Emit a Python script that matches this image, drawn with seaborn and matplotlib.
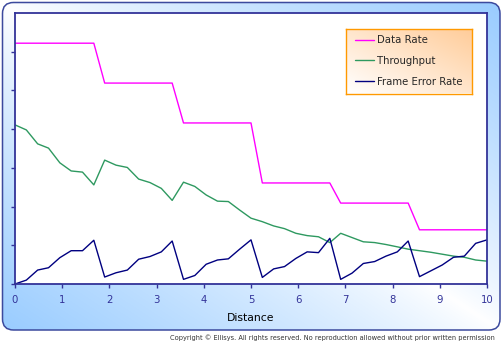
import numpy as np
import pandas as pd
import matplotlib
matplotlib.use("Agg")
import matplotlib.pyplot as plt
from matplotlib.patches import FancyBboxPatch
import seaborn as sns

# ---------------- data ----------------
distance = [0.00, 0.24, 0.48, 0.71, 0.95, 1.19, 1.43, 1.67, 1.90, 2.14, 2.38,
            2.62, 2.86, 3.10, 3.33, 3.57, 3.81, 4.05, 4.29, 4.52, 4.76, 5.00,
            5.24, 5.48, 5.71, 5.95, 6.19, 6.43, 6.67, 6.90, 7.14, 7.38, 7.62,
            7.86, 8.10, 8.33, 8.57, 8.81, 9.05, 9.29, 9.52, 9.76, 10.00]
data_rate = [6.22, 6.22, 6.22, 6.22, 6.22, 6.22, 6.22, 6.22,
             5.19, 5.19, 5.19, 5.19, 5.19, 5.19, 5.19,
             4.16, 4.16, 4.16, 4.16, 4.16, 4.16, 4.16,
             2.61, 2.61, 2.61, 2.61, 2.61, 2.61, 2.61,
             2.09, 2.09, 2.09, 2.09, 2.09, 2.09, 2.09,
             1.40, 1.40, 1.40, 1.40, 1.40, 1.40, 1.40]
throughput = [4.11, 3.98, 3.62, 3.51, 3.13, 2.92, 2.89, 2.56, 3.20, 3.07,
              3.01, 2.71, 2.62, 2.47, 2.16, 2.63, 2.52, 2.30, 2.14, 2.13,
              1.91, 1.70, 1.61, 1.50, 1.43, 1.31, 1.25, 1.22, 1.07, 1.31,
              1.20, 1.09, 1.07, 1.02, 0.96, 0.90, 0.86, 0.82, 0.77, 0.72,
              0.69, 0.62, 0.59]
frame_error_rate = [0.00, 0.10, 0.36, 0.42, 0.68, 0.86, 0.86, 1.13, 0.18, 0.29,
                    0.36, 0.64, 0.71, 0.83, 1.11, 0.12, 0.22, 0.51, 0.62, 0.65,
                    0.90, 1.14, 0.17, 0.39, 0.45, 0.66, 0.83, 0.81, 1.18, 0.12,
                    0.28, 0.53, 0.58, 0.72, 0.83, 1.11, 0.19, 0.34, 0.49, 0.69,
                    0.72, 1.05, 1.14]
series_names = ["Data Rate", "Throughput", "Frame Error Rate"]
x_ticks = [0, 1, 2, 3, 4, 5, 6, 7, 8, 9, 10]
y_ticks = [0, 1, 2, 3, 4, 5, 6]
x_label = "Distance"
copyright_text = ("Copyright \u00a9 Ellisys. All rights reserved. "
                  "No reproduction allowed without prior written permission")

colors = {"Data Rate": "#ff00ff", "Throughput": "#2e9960", "Frame Error Rate": "#000080"}
axis_blue = "#333399"

df = pd.DataFrame({
    "Distance": distance * 3,
    "Value": data_rate + throughput + frame_error_rate,
    "Series": [series_names[0]] * len(distance) + [series_names[1]] * len(distance)
              + [series_names[2]] * len(distance),
})

sns.set_style("white")
plt.rcParams["font.family"] = ["DejaVu Sans"]

W, H = 503, 354
fig = plt.figure(figsize=(W / 100, H / 100), dpi=100)
fig.patch.set_facecolor("white")

# ---------------- background panel ----------------
bg = fig.add_axes([0, 0, 1, 1], zorder=0)
bg.set_xlim(0, W)
bg.set_ylim(H, 0)
bg.axis("off")
px0, py0, px1, py1 = 2.5, 2.5, 500, 330
yy, xx = np.mgrid[0:H, 0:W] + 0.5
v = (xx - px0) / (px1 - px0) - (yy - py0) / (py1 - py0)
t = np.clip(np.abs(v), 0, 1) ** 0.85
blue = np.array([0.60, 0.80, 1.00])
img = (1 - t)[..., None] * np.ones(3) + t[..., None] * blue
im = bg.imshow(img, extent=(0, W, H, 0), interpolation="bilinear", zorder=1)
panel = FancyBboxPatch((px0, py0), px1 - px0, py1 - py0,
                       boxstyle="round,pad=0,rounding_size=11",
                       facecolor="none", edgecolor="#3c4a9e", linewidth=1.1, zorder=2)
bg.add_patch(panel)
im.set_clip_path(panel)

# ---------------- main axes ----------------
ax = fig.add_axes([15 / W, 70 / H, 472 / W, 271 / H], zorder=2)
ax.set_facecolor("white")
sns.lineplot(data=df, x="Distance", y="Value", hue="Series", hue_order=series_names,
             palette=colors, linewidth=1.0, ax=ax, legend=True, sort=False)
ax.set_xlim(0, 10)
ax.set_ylim(0, 7)
ax.set_xticks(x_ticks)
ax.set_xticklabels([str(v) for v in x_ticks])
ax.set_yticks(y_ticks)
ax.set_yticklabels([])
ax.tick_params(axis="both", direction="out", length=3, width=1.0, color=axis_blue,
               labelcolor=axis_blue, labelsize=7.3, pad=5,
               bottom=True, left=True)
for s in ax.spines.values():
    s.set_color(axis_blue)
    s.set_linewidth(1.3)
ax.set_xlabel(x_label, fontsize=7.8, color="black", labelpad=6)
ax.set_ylabel("")

handles, labels = ax.get_legend_handles_labels()
ax.get_legend().remove()

# ---------------- legend box ----------------
lx0, ly0, lx1, ly1 = 345.5, 28.5, 471.5, 93.5
lax = fig.add_axes([lx0 / W, 1 - ly1 / H, (lx1 - lx0) / W, (ly1 - ly0) / H], zorder=3)
gy, gx = np.mgrid[0:60, 0:120]
gt = ((gx / 119.0) + (1 - gy / 59.0)) / 2.0
peach = np.array([1.0, 0.80, 0.60])
gimg = (1 - gt)[..., None] * np.ones(3) + gt[..., None] * peach
lax.imshow(gimg, extent=(0, 1, 0, 1), aspect="auto", interpolation="bilinear")
lax.set_xlim(0, 1)
lax.set_ylim(0, 1)
lax.set_xticks([])
lax.set_yticks([])
for s in lax.spines.values():
    s.set_color("#ff9900")
    s.set_linewidth(1.0)
leg = lax.legend(handles, labels, loc="center left", bbox_to_anchor=(0.0, 0.5),
                 frameon=False, fontsize=7.3, handlelength=1.9, handletextpad=0.3,
                 labelspacing=1.05, borderaxespad=0.55)
for lh in leg.get_lines():
    lh.set_linewidth(1.0)

fig.text(495 / W, 1 - 338 / H, copyright_text, ha="right", va="center",
         fontsize=4.8, color="#333333")

fig.savefig("out.png", dpi=100)
